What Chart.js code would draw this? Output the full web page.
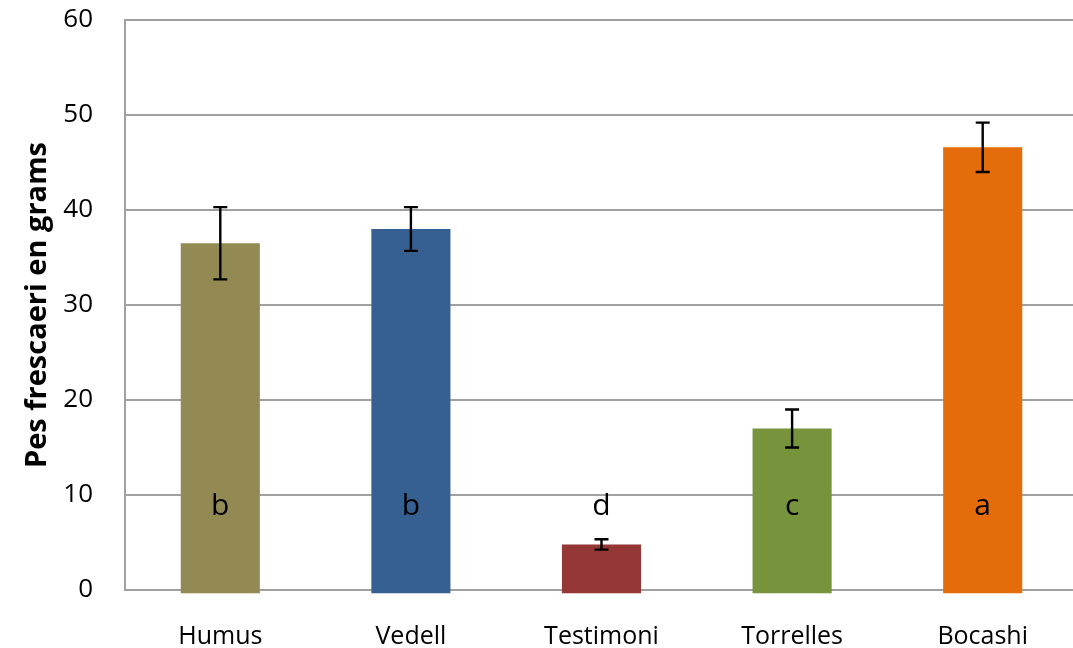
<!DOCTYPE html>
<html>
<head>
<meta charset="utf-8">
<script src="https://cdn.jsdelivr.net/npm/chart.js@4.4.1/dist/chart.umd.min.js"></script>
<style>
  html, body { margin: 0; padding: 0; background: #fff; overflow: hidden; }
  #wrap { width: 1078px; height: 648px; position: relative; }
</style>
</head>
<body>
<div id="wrap"><canvas id="chart"></canvas></div>
<script>
// Fresh weight per treatment (grams), with standard error and significance group
const categories = ['Humus', 'Vedell', 'Testimoni', 'Torrelles', 'Bocashi'];
const meanWeight = [36.5, 38.0, 4.8, 17.0, 46.6];
const stdError   = [3.8, 2.3, 0.55, 2.0, 2.6];
const groupLetters = ['b', 'b', 'd', 'c', 'a'];
const barColors = ['#938953', '#376092', '#953735', '#77933C', '#E46C0A'];
const yTicks = [0, 10, 20, 30, 40, 50, 60];

const FONT = '"Open Sans", "Liberation Sans", sans-serif';
const GRID = '#a0a0a0';

// Vertical error bars with caps, drawn after the bars
const errorBars = {
  id: 'errorBars',
  afterDatasetsDraw(chart) {
    const { ctx, scales: { y } } = chart;
    const meta = chart.getDatasetMeta(0);
    ctx.save();
    ctx.strokeStyle = '#000';
    ctx.lineWidth = 2.4;
    meta.data.forEach((bar, i) => {
      const hi = y.getPixelForValue(meanWeight[i] + stdError[i]);
      const lo = y.getPixelForValue(meanWeight[i] - stdError[i]);
      const x = bar.x, cap = 7;
      ctx.beginPath();
      ctx.moveTo(x, hi); ctx.lineTo(x, lo);
      ctx.moveTo(x - cap, hi); ctx.lineTo(x + cap, hi);
      ctx.moveTo(x - cap, lo); ctx.lineTo(x + cap, lo);
      ctx.stroke();
    });
    ctx.restore();
  }
};

// Significance letters placed inside each column
const letterLabels = {
  id: 'letterLabels',
  afterDatasetsDraw(chart) {
    const { ctx, scales: { y } } = chart;
    const meta = chart.getDatasetMeta(0);
    ctx.save();
    ctx.fillStyle = '#000';
    ctx.font = '30px ' + FONT;
    ctx.textAlign = 'center';
    ctx.textBaseline = 'alphabetic';
    const yPix = y.getPixelForValue(7.9);
    meta.data.forEach((bar, i) => {
      ctx.fillText(groupLetters[i], bar.x, yPix);
    });
    ctx.restore();
  }
};

new Chart(document.getElementById('chart'), {
  type: 'bar',
  data: {
    labels: categories,
    datasets: [{
      data: meanWeight,
      backgroundColor: barColors,
      borderWidth: 0,
      base: -0.35,
      clip: false,
      categoryPercentage: 1.0,
      barPercentage: 0.415
    }]
  },
  options: {
    responsive: true,
    maintainAspectRatio: false,
    animation: false,
    events: [],
    layout: { padding: { top: 20, right: 0, left: 0, bottom: 0 } },
    plugins: {
      legend: { display: false },
      tooltip: { enabled: false }
    },
    scales: {
      x: {
        z: 1,
        grid: { display: false, drawTicks: false },
        border: { display: true, color: GRID, width: 2 },
        ticks: {
          color: '#000',
          padding: 32,
          maxRotation: 0,
          font: { family: FONT, size: 25 }
        },
        afterFit(scale) {
          scale.height = 58;
          scale.paddingLeft = 0;
          scale.paddingRight = 0;
        }
      },
      y: {
        min: 0,
        max: 60,
        afterBuildTicks(scale) { scale.ticks = yTicks.map(v => ({ value: v })); },
        grid: { color: GRID, lineWidth: 2, drawTicks: false },
        border: { display: true, color: GRID, width: 2 },
        ticks: {
          color: '#000',
          padding: 32,
          font: { family: FONT, size: 26 }
        },
        title: {
          display: true,
          text: 'Pes frescaeri en grams',
          color: '#000',
          padding: { top: 20, bottom: 0 },
          font: { family: FONT, size: 29, weight: 'bold' }
        },
        afterFit(scale) {
          scale.width = 125;
          scale.paddingTop = 0;
          scale.paddingBottom = 0;
        }
      }
    }
  },
  plugins: [errorBars, letterLabels]
});
</script>
</body>
</html>
